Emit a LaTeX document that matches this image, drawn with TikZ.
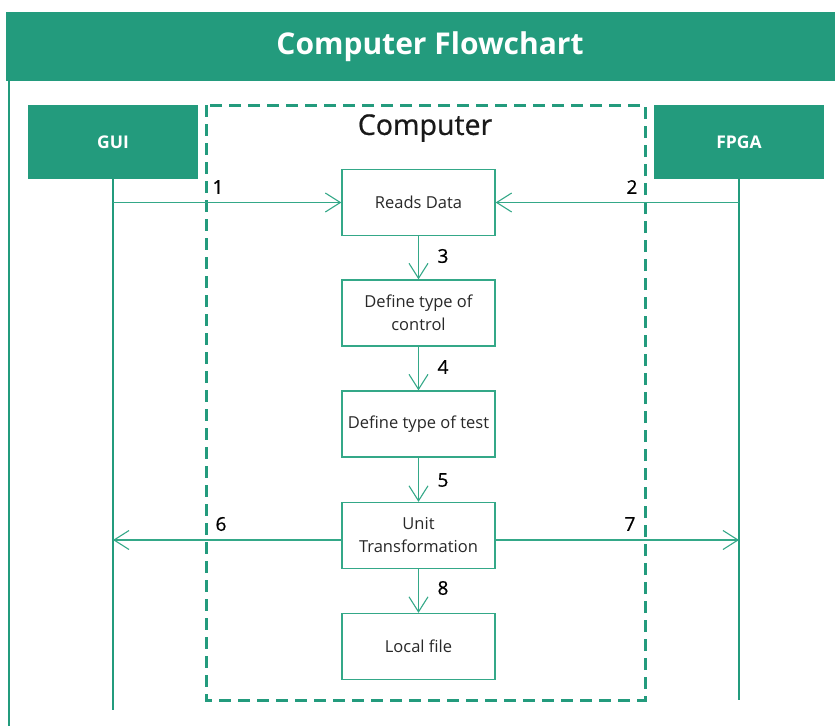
\documentclass[tikz,border=0pt]{standalone}
\usepackage{fontspec}
\setmainfont{Open Sans}
\newfontfamily\mediumface[FakeBold=0.7]{Open Sans}
\usetikzlibrary{arrows.meta}
\definecolor{teal0}{RGB}{35,155,125}
\definecolor{teal1}{RGB}{52,168,136}
\definecolor{ink}{RGB}{40,40,40}
\tikzset{
  actor/.style={draw=none, fill=teal0, minimum width=170pt, minimum height=74pt,
    text=white, font=\fontsize{17.5}{20}\selectfont\bfseries},
  procbox/.style={draw=teal1, line width=1.3pt, fill=white, minimum width=153pt,
    minimum height=66pt, align=center, text=ink,
    font=\fontsize{16.5}{23}\selectfont},
  lifeline/.style={draw=teal0, line width=2pt},
  flow/.style={draw=teal1, line width=1.5pt,
    -{Straight Barb[length=15pt,width=19pt,line width=1.1pt]}},
  num/.style={text=black, font=\fontsize{19}{22}\selectfont\mediumface},
  region/.style={draw=teal0, line width=3pt, dash pattern=on 12pt off 7pt}
}
\begin{document}
\begin{tikzpicture}[x=1pt,y=-1pt]
\useasboundingbox (0,0) rectangle (835,726);
% frame: header band and left border
\fill[teal0] (6,12) rectangle (835,81);
\draw[teal0, line width=2pt] (9,81) -- (9,726);
\node[text=white, font=\fontsize{30}{34}\selectfont\bfseries] (title) at (430,47) {Computer Flowchart};

% computer boundary
\draw[region] (206,105) rectangle (645,700);
\node[text=black!90, font=\fontsize{28.5}{32}\selectfont\mediumface] (comp) at (425,128) {Computer};

% actors
\node[actor] (gui) at (113,142) {GUI};
\node[actor] (fpga) at (739,142) {FPGA};
\coordinate (guiend) at (113,710);
\coordinate (fpgaend) at (739,700);
\draw[lifeline] (gui.south) -- (guiend);
\draw[lifeline] (fpga.south) -- (fpgaend);

% processing steps
\node[procbox] (reads) at (418.5,202.5) {Reads Data};
\node[procbox] (ctrl) at (418.5,313) {Define type of\\control};
\node[procbox] (test) at (418.5,424) {Define type of test};
\node[procbox] (unit) at (418.5,535.5) {Unit\\Transformation};
\node[procbox] (local) at (418.5,646.5) {Local file};

% taps on the lifelines
\coordinate (g1) at (113,202.5);
\coordinate (f2) at (739,202.5);
\coordinate (g6) at (113,540);
\coordinate (f7) at (739,540);

% messages
\draw[flow] (g1) -- (reads.west);
\draw[flow] (f2) -- (reads.east);
\draw[flow] (reads.south) -- (ctrl.north);
\draw[flow] (ctrl.south) -- (test.north);
\draw[flow] (test.south) -- (unit.north);
\draw[flow] (unit.west |- g6) -- (g6);
\draw[flow] (unit.east |- f7) -- (f7);
\draw[flow] (unit.south) -- (local.north);

% message numbers
\node[num] (n1) at (218,187) {1};
\node[num] (n2) at (632,187) {2};
\node[num] (n3) at (443,256) {3};
\node[num] (n4) at (443,367) {4};
\node[num] (n5) at (443,480) {5};
\node[num] (n6) at (221,524) {6};
\node[num] (n7) at (630,524) {7};
\node[num] (n8) at (443,588) {8};
\end{tikzpicture}
\end{document}
